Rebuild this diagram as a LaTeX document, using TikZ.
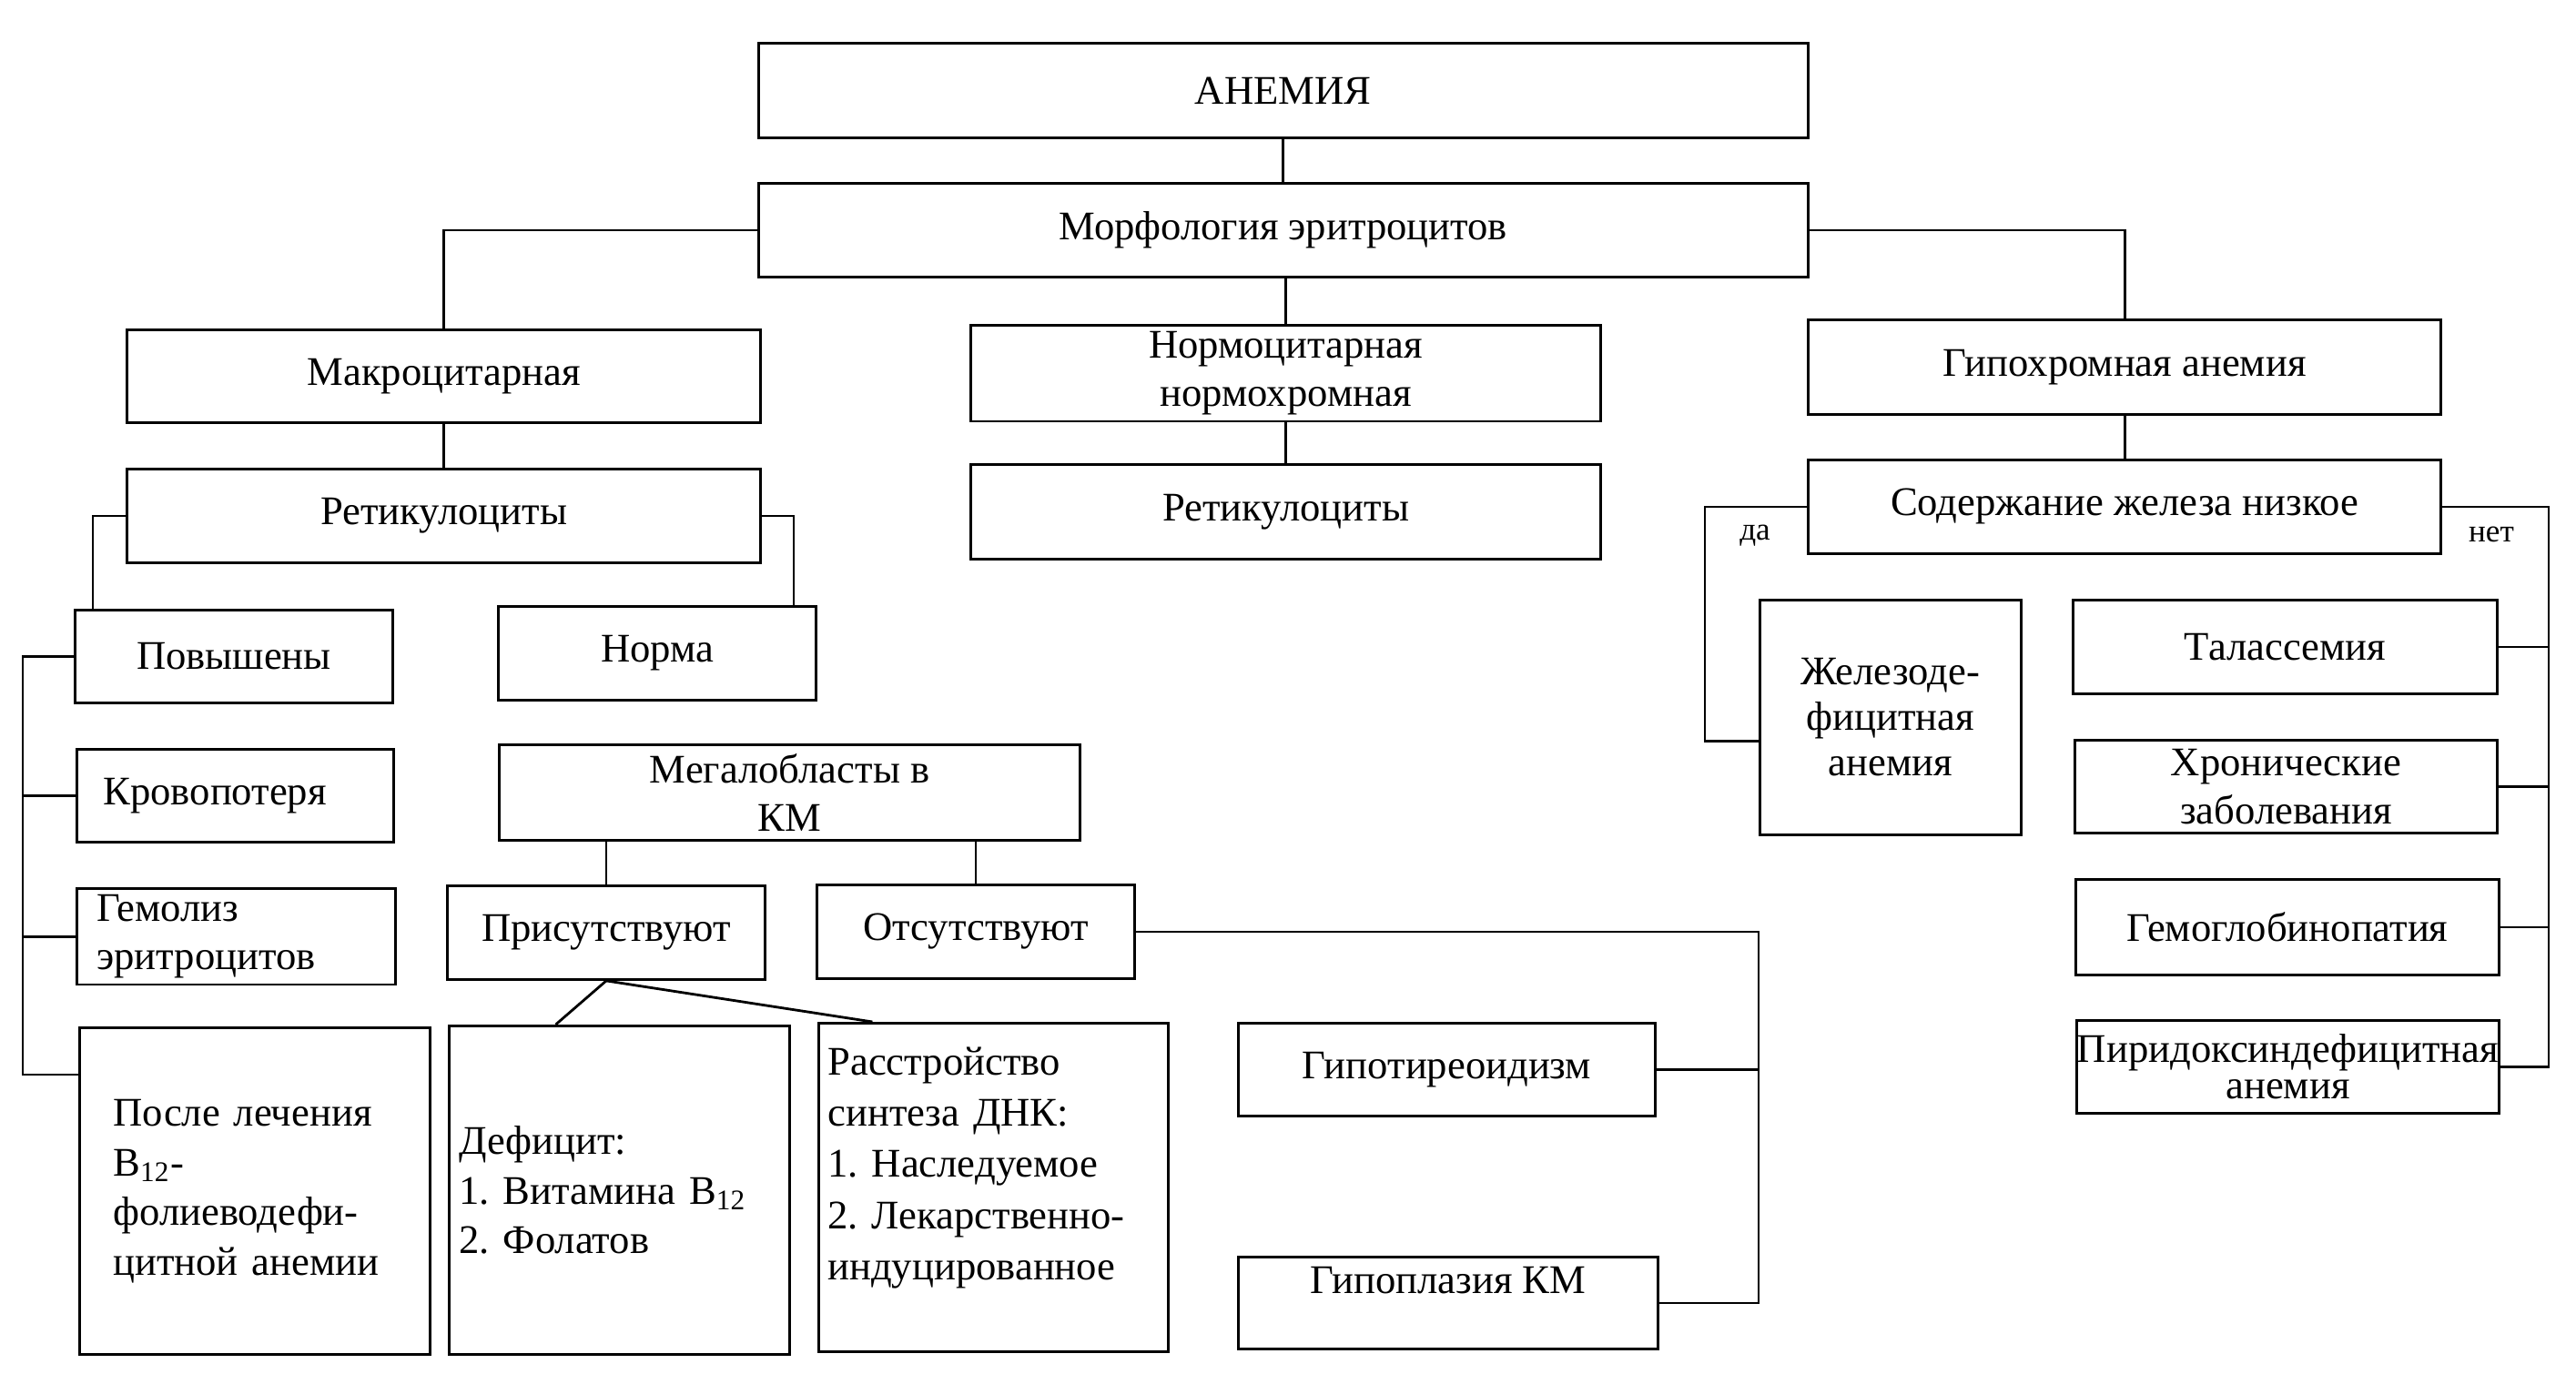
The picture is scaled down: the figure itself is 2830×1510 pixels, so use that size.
\documentclass[tikz,border=0pt]{standalone}
\usepackage{fontspec}
\setmainfont{Liberation Serif}
\usetikzlibrary{arrows,positioning,shapes}
\frenchspacing

\tikzset{
  box/.style={draw, line width=0.8pt, anchor=north west, inner sep=2pt,
    font=\fontsize{12.7}{15}\selectfont, align=center},
  wire/.style={line width=0.8pt},
  yesno/.style={font=\fontsize{10}{12}\selectfont}
}

\begin{document}
\begin{tikzpicture}[x=0.01cm, y=-0.01cm]
\useasboundingbox (0,0) rectangle (2830,1510);
\node[box, minimum width=11.52cm, minimum height=1.04cm] (anemia) at (832,46) {АНЕМИЯ};
\node[box, minimum width=11.52cm, minimum height=1.03cm] (morph) at (832,200) {Морфология эритроцитов};
\node[box, minimum width=6.96cm, minimum height=1.02cm] (macro) at (138,361) {Макроцитарная};
\node[box, minimum width=6.96cm, minimum height=1.03cm] (retic1) at (138,514) {Ретикулоциты};
\node[box, minimum width=6.92cm, minimum height=1.02cm] (normo) at (1065,356) {Нормоцитарная\\нормохромная};
\node[box, minimum width=6.92cm, minimum height=1.04cm] (retic2) at (1065,509) {Ретикулоциты};
\node[box, minimum width=6.95cm, minimum height=1.04cm] (hypo) at (1985,350) {Гипохромная анемия};
\node[box, minimum width=6.95cm, minimum height=1.03cm] (iron) at (1985,504) {Содержание железа низкое};

\node[box, minimum width=3.49cm, minimum height=1.02cm] (pov) at (81,669) {Повышены};
\node[box, minimum width=3.49cm, minimum height=1.03cm] (norma) at (546,665) {Норма};
\node[box, minimum height=1.02cm, inner xsep=0.29cm, text width=2.9cm, align=left] (krov) at (83,822) {Кровопотеря};
\node[box, minimum height=1.03cm, inner xsep=0.22cm, text width=3.06cm, align=left] (gemol) at (83,975) {Гемолиз\\эритроцитов};
\node[box, minimum height=3.59cm, inner xsep=0.37cm, text width=3.11cm, align=left,
  font=\fontsize{12.7}{15.5}\selectfont] (posle) at (86,1128)
  {После лечения\\B\textsubscript{12}-\\фолиеводефи-\\цитной анемии};

\node[box, minimum width=6.38cm, minimum height=1.05cm] (megalo) at (547,817) {Мегалобласты в\\КМ};
\node[box, minimum width=3.49cm, minimum height=1.03cm] (pris) at (490,972) {Присутствуют};
\node[box, minimum width=3.49cm, minimum height=1.03cm] (otsut) at (896,971) {Отсутствуют};
\node[box, minimum height=3.61cm, inner xsep=0.11cm, text width=3.52cm, align=left,
  font=\fontsize{12.7}{15.5}\selectfont] (deficit) at (492,1126)
  {Дефицит:\\1. Витамина B\textsubscript{12}\\2. Фолатов};
\node[box, minimum height=3.61cm, inner xsep=0.1cm, text width=3.64cm, align=left,
  font=\fontsize{12.7}{16}\selectfont] (rasstr) at (898,1123)
  {Расстройство\\синтеза ДНК:\\1. Наследуемое\\2. Лекарственно-\\индуцированное\\[-1pt]\mbox{}};
\node[box, minimum width=4.58cm, minimum height=1.02cm] (gipotir) at (1359,1123) {Гипотиреоидизм};
\node[box, minimum width=4.61cm, minimum height=1.01cm] (gipopl) at (1359,1380) {\raisebox{0.1cm}[0pt][0pt]{Гипоплазия КМ}};

\node[box, minimum width=2.87cm, minimum height=2.58cm, font=\fontsize{12.7}{14.2}\selectfont] (zhel) at (1932,658) {Железоде-\\фицитная\\анемия};
\node[box, minimum width=4.66cm, minimum height=1.03cm] (talass) at (2276,658) {Талассемия};
\node[box, minimum width=4.64cm, minimum height=1.02cm] (hron) at (2278,812) {Хронические\\заболевания};
\node[box, minimum width=4.65cm, minimum height=1.05cm] (gemoglob) at (2279,965) {Гемоглобинопатия};
\node[box, minimum width=4.64cm, minimum height=1.02cm, inner xsep=0pt] (pirid) at (2280,1120) {Пиридоксиндефицитная\\[-3.5pt]анемия};

\node[yesno] (da) at (1928,589) {да};
\node[yesno] (net) at (2737,587) {нет};

\coordinate (lbus) at (25,0);
\coordinate (ibus) at (1873,0);
\coordinate (rbus) at (2800,0);
\coordinate (obus) at (1932,0);
\coordinate (zin) at ([yshift=-0.26cm]zhel.west);
\coordinate (pin) at ([yshift=-0.53cm]posle.north west);

\draw[wire] (anemia) -- (morph);
\draw[wire] (morph.west) -| (macro.north);
\draw[wire] (normo.north |- morph.south) -- (normo.north);
\draw[wire] (morph.east) -| (hypo.north);
\draw[wire] (macro) -- (retic1);
\draw[wire] (normo) -- (retic2);
\draw[wire] (hypo) -- (iron);
\draw[wire] (retic1.west) -| ([xshift=0.21cm]pov.north west);
\draw[wire] (retic1.east) -| ([xshift=-0.26cm]norma.north east);
\draw[wire] (pov.west) -- (pov.west -| lbus) |- (pin);
\draw[wire] (krov.west) -- (krov.west -| lbus);
\draw[wire] (gemol.west) -- (gemol.west -| lbus);
\draw[wire] (pris.north) -- (pris.north |- megalo.south);
\draw[wire] (otsut.north) -- (otsut.north |- megalo.south);
\draw[wire] (pris.south) -- ([xshift=-0.7cm]deficit.north);
\draw[wire] (pris.south) -- ([xshift=-1.33cm]rasstr.north);
\draw[wire] (otsut.east) -- (otsut.east -| obus) |- (gipopl.east);
\draw[wire] (gipotir.east) -- (gipotir.east -| obus);
\draw[wire] (iron.west) -- (iron.west -| ibus) |- (zin);
\draw[wire] (iron.east) -- (iron.east -| rbus) |- (pirid.east);
\draw[wire] (talass.east) -- (talass.east -| rbus);
\draw[wire] (hron.east) -- (hron.east -| rbus);
\draw[wire] (gemoglob.east) -- (gemoglob.east -| rbus);
\end{tikzpicture}
\end{document}
